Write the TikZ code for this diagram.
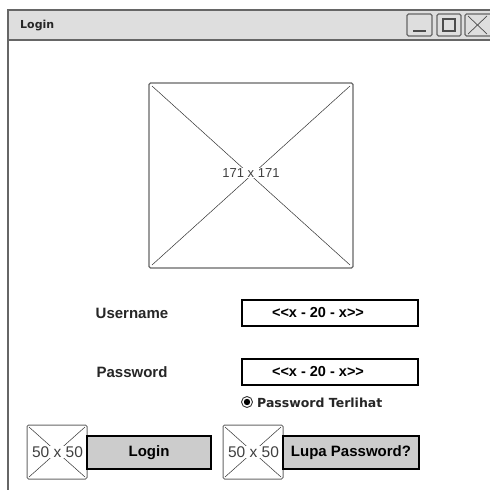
\documentclass[tikz,border=0pt]{standalone}
\usepackage{fontspec}
\setmainfont{Liberation Sans}
\newfontfamily\handfont{DejaVu Sans}
\begin{document}
\begin{tikzpicture}[x=1pt,y=-1pt,
  winline/.style={draw=black!60, line width=1.4pt},
  field/.style={draw=black, line width=1.6pt, fill=white, minimum width=176pt, minimum height=26pt, inner sep=0pt, font=\fontsize{14.5}{16}\selectfont\bfseries},
  btn/.style={draw=black, line width=1.6pt, fill=black!20, inner sep=0pt, font=\fontsize{15}{17}\selectfont\bfseries},
  lbl/.style={font=\fontsize{15}{17}\selectfont\bfseries, text=black!85},
  imgbox/.style={draw=black!60, line width=1pt, rounded corners=1.5pt, fill=white},
  cross/.style={draw=black!80, line width=0.5pt},
  ctl/.style={draw=black!60, line width=1.2pt, rounded corners=1.5pt},
  dimtext/.style={fill=white, inner sep=0.5pt, text=black!75}
]
\useasboundingbox (0,0) rectangle (490,490);
\fill[white] (0,0) rectangle (490,490);
\begin{scope}
\clip (0,0) rectangle (490,490);
% window frame and title bar
\draw[winline] (8,10) rectangle (500,500);
\draw[winline, fill=black!13] (8,10) rectangle (500,40);
\node[anchor=west, inner sep=0pt, font=\handfont\fontsize{11}{13}\selectfont\bfseries, text=black!85] (title) at (20,26) {Login};
% window controls
\draw[ctl] (407,14) rectangle (432,36);
\draw[black!70, line width=1.2pt] (413,31) -- (426,31);
\draw[ctl] (437,14) rectangle (461,36);
\draw[black!70, line width=1.2pt] (443,19) rectangle (455,31);
\draw[ctl] (465,14) rectangle (494,36);
\draw[black!70, line width=0.7pt] (468,16) -- (487,34) (487,16) -- (468,34);
\end{scope}

% large image placeholder
\draw[imgbox, line width=1.3pt] (149,83) rectangle (353,268);
\draw[cross] (152,86) -- (350,265) (350,86) -- (152,265);
\node[dimtext, font=\fontsize{13}{15}\selectfont] (bigimg) at (251,173) {171 x 171};

% login form
\node[lbl] (userlbl) at (132,313) {Username};
\node[field] (userfield) at (330,313) {\hspace*{-24pt}<{}<x - 20 - x>{}>};
\node[lbl] (passlbl) at (132,372) {Password};
\node[field] (passfield) at (330,372) {\hspace*{-24pt}<{}<x - 20 - x>{}>};

% show-password radio option
\draw[black!80, line width=0.9pt] (247,402) circle (5.5);
\fill[black] (247,402) circle (3.2);
\node[anchor=west, font=\handfont\fontsize{12.5}{14}\selectfont\bfseries, inner sep=0pt, text=black!85] (showpw) at (257,403) {Password Terlihat};

% bottom buttons with icons
\draw[imgbox] (27,425) rectangle (87,479);
\draw[cross] (29,427) -- (85,477) (85,427) -- (29,477);
\node[dimtext, font=\fontsize{15.5}{17}\selectfont] (icon1) at (57.5,452) {50 x 50};
\node[btn, minimum width=124pt, minimum height=33pt] (loginbtn) at (149,452.5) {Login};

\draw[imgbox] (223,425) rectangle (283,479);
\draw[cross] (225,427) -- (281,477) (281,427) -- (225,477);
\node[dimtext, font=\fontsize{15.5}{17}\selectfont] (icon2) at (253.5,452) {50 x 50};
\node[btn, minimum width=136pt, minimum height=33pt] (lupabtn) at (351,452.5) {Lupa Password?};
\end{tikzpicture}
\end{document}
